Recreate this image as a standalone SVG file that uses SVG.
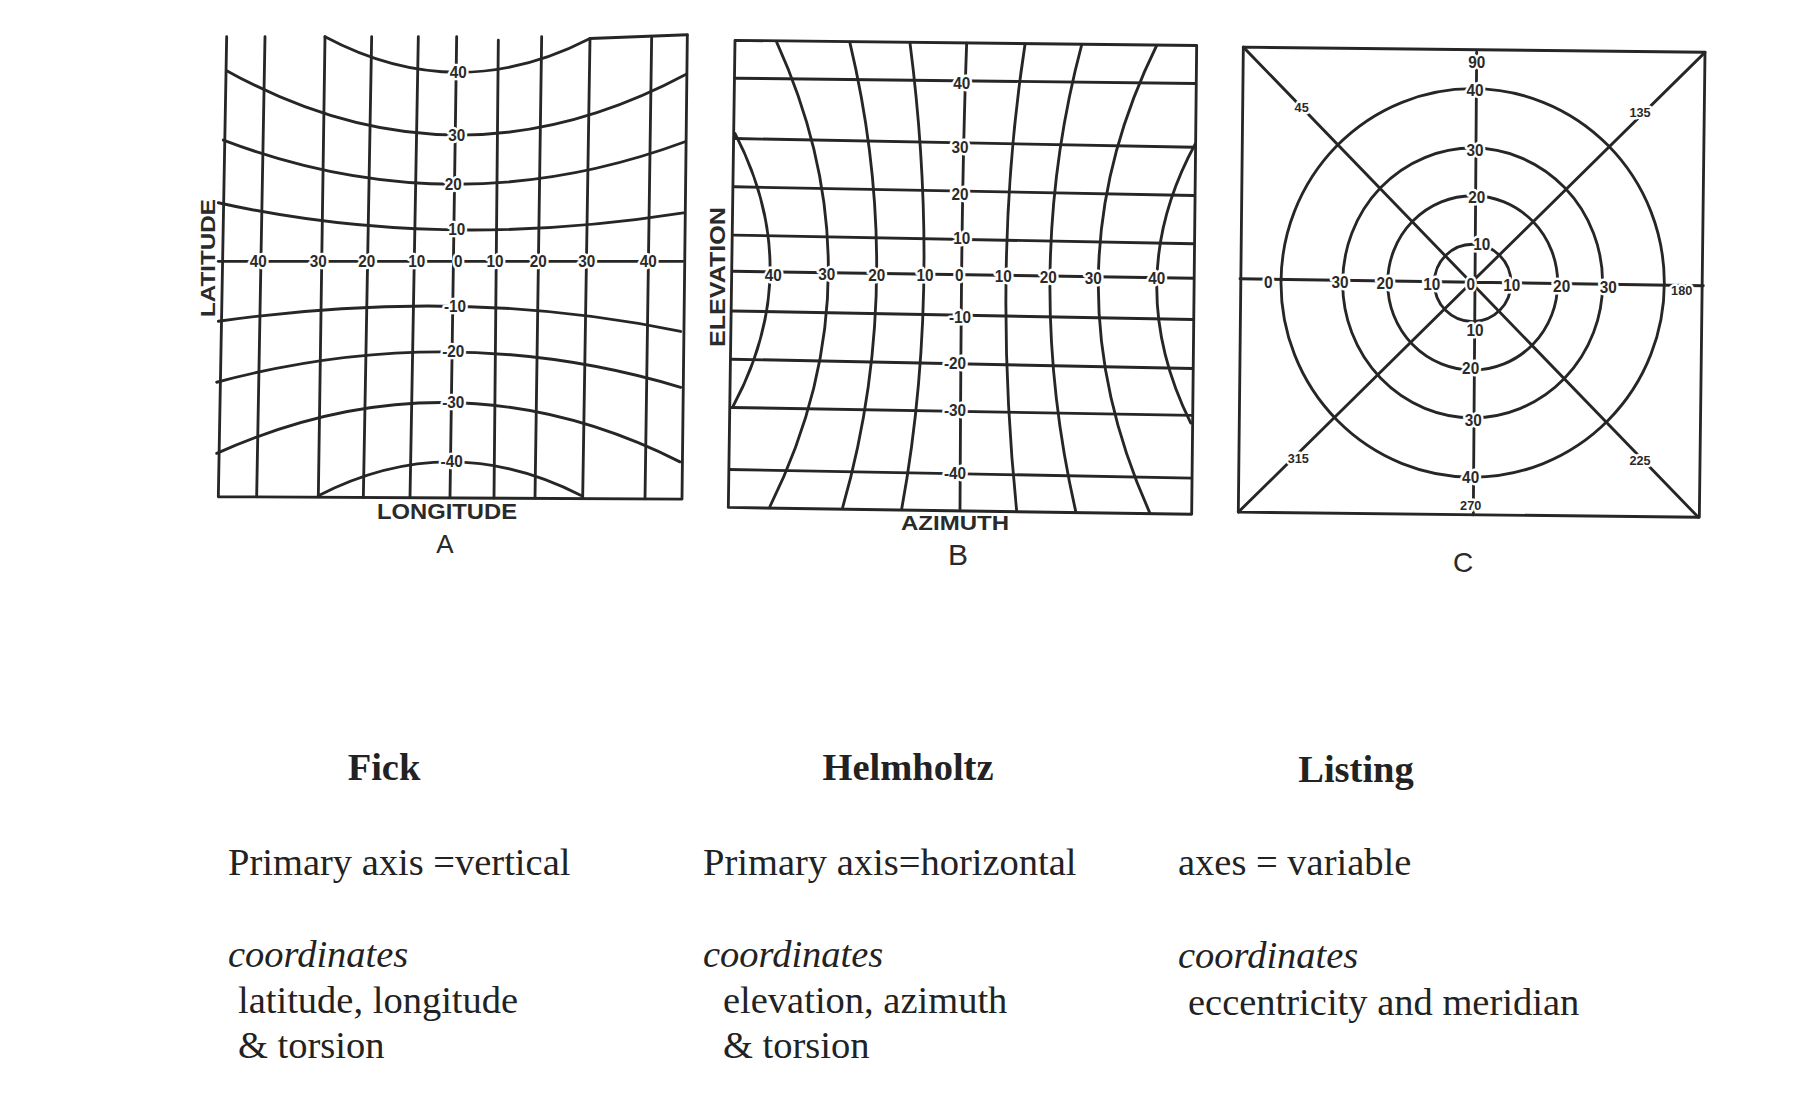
<svg xmlns="http://www.w3.org/2000/svg" width="1806" height="1109" viewBox="0 0 1806 1109">
<style>
.g{fill:none;stroke:#262626;stroke-width:8.5;stroke-linecap:round;stroke-linejoin:round}
.n{font-family:"Liberation Sans",Arial,sans-serif;font-weight:bold;font-size:46px;text-anchor:middle;dominant-baseline:central;fill:#2a2a2a;stroke:#fff;stroke-width:14px;paint-order:stroke;stroke-linejoin:round}
.s{font-size:38px}
.ax{font-family:"Liberation Sans",Arial,sans-serif;font-weight:bold;fill:#2a2a2a;text-anchor:middle}
.cap{font-family:"Liberation Sans",Arial,sans-serif;fill:#2a2a2a;text-anchor:middle}
.t{font-family:"Liberation Serif","Times New Roman",serif;font-size:38.5px;fill:#222}
.h{font-weight:bold;text-anchor:middle}
.i{font-style:italic}
</style>
<rect width="1806" height="1109" fill="#fff"/>

<g id="panel-fick">
<g transform="translate(190,30) scale(0.333333,0.3387)">
<path class="g" d="M110,20 L85,1378 L1476,1385 L1492,15"/>
<path class="g" d="M225,20 L200,1378 M405,20 L385,1378 M545,20 L520,1380 M685,20 L660,1380 M800,20 L780,1380 M925,30 L912,1382 M1055,20 L1035,1382 M1200,25 L1178,1383 M1385,20 L1365,1384"/>
<path class="g" d="M405,20 C670,159 935,159 1200,25 L1492,14"/>
<path class="g" d="M110,120 C570,372 1030,372 1490,130"/>
<path class="g" d="M100,325 C562,498 1023,498 1485,330"/>
<path class="g" d="M85,510 C550,612 1015,612 1480,540"/>
<path class="g" d="M85,683 L1478,683"/>
<path class="g" d="M85,860 C547,795 1010,795 1472,890"/>
<path class="g" d="M80,1040 C544,918 1008,918 1472,1055"/>
<path class="g" d="M80,1250 C543,1046 1007,1046 1470,1275"/>
<path class="g" d="M385,1375 C648,1242 912,1242 1175,1375"/>
<text class="n" x="805" y="125">40</text>
<text class="n" x="800" y="310">30</text>
<text class="n" x="790" y="455">20</text>
<text class="n" x="800" y="590">10</text>
<text class="n" x="795" y="815">-10</text>
<text class="n" x="790" y="950">-20</text>
<text class="n" x="790" y="1100">-30</text>
<text class="n" x="785" y="1275">-40</text>
<text class="n" x="205" y="683">40</text>
<text class="n" x="385" y="683">30</text>
<text class="n" x="530" y="683">20</text>
<text class="n" x="680" y="683">10</text>
<text class="n" x="805" y="683">0</text>
<text class="n" x="915" y="683">10</text>
<text class="n" x="1045" y="683">20</text>
<text class="n" x="1190" y="683">30</text>
<text class="n" x="1375" y="683">40</text>
</g>
<text class="ax" transform="translate(215,258) rotate(-90)" font-size="21" textLength="118" lengthAdjust="spacingAndGlyphs">LATITUDE</text>
<text class="ax" x="447" y="519" font-size="22" textLength="140" lengthAdjust="spacingAndGlyphs">LONGITUDE</text>
<text class="cap" x="445" y="553" font-size="26">A</text>
</g>

<g id="panel-helmholtz">
<g transform="translate(720,30) scale(0.333333,0.3447)">
<path class="g" d="M45,30 L1430,45 L1415,1405 L25,1385 Z"/>
<path class="g" d="M48,140 L1427,155 M45,315 L1422,340 M44,455 L1421,480 M42,595 L1420,620 M40,700 L1420,720 M37,815 L1418,840 M35,955 L1417,982 M32,1095 L1416,1118 M28,1275 L1415,1300"/>
<path class="g" d="M45,300 C186,563 186,827 40,1090"/>
<path class="g" d="M170,35 C380,483 380,932 150,1382"/>
<path class="g" d="M390,38 C500,487 500,938 368,1385"/>
<path class="g" d="M570,38 C630,488 630,940 545,1390"/>
<path class="g" d="M740,38 C723,488 723,940 720,1390"/>
<path class="g" d="M915,42 C843,493 843,945 890,1395"/>
<path class="g" d="M1085,43 C961,495 961,948 1068,1400"/>
<path class="g" d="M1310,45 C1080,497 1080,950 1290,1402"/>
<path class="g" d="M1426,330 C1274,600 1274,870 1412,1140"/>
<text class="n" x="725" y="155">40</text>
<text class="n" x="720" y="340">30</text>
<text class="n" x="720" y="478">20</text>
<text class="n" x="725" y="605">10</text>
<text class="n" x="718" y="712">0</text>
<text class="n" x="720" y="835">-10</text>
<text class="n" x="705" y="968">-20</text>
<text class="n" x="705" y="1105">-30</text>
<text class="n" x="705" y="1285">-40</text>
<text class="n" x="160" y="712">40</text>
<text class="n" x="320" y="710">30</text>
<text class="n" x="470" y="712">20</text>
<text class="n" x="615" y="712">10</text>
<text class="n" x="850" y="715">10</text>
<text class="n" x="985" y="718">20</text>
<text class="n" x="1120" y="720">30</text>
<text class="n" x="1310" y="722">40</text>
</g>
<text class="ax" transform="translate(725,277) rotate(-90)" font-size="22" textLength="140" lengthAdjust="spacingAndGlyphs">ELEVATION</text>
<text class="ax" x="955" y="530" font-size="21" textLength="108" lengthAdjust="spacingAndGlyphs">AZIMUTH</text>
<text class="cap" x="958" y="565" font-size="30">B</text>
</g>

<g id="panel-listing">
<g transform="translate(1230,38.5) scale(0.333333,0.3457)">
<path class="g" d="M40,25 L1425,40 L1408,1385 L25,1370 Z"/>
<path class="g" d="M30,695 L1420,715 M740,40 L730,1378 M40,25 L1405,1385 M25,1370 L1425,40"/>
<ellipse class="g" cx="728" cy="707" rx="115" ry="112"/>
<ellipse class="g" cx="728" cy="707" rx="255" ry="252"/>
<ellipse class="g" cx="728" cy="707" rx="390" ry="390"/>
<ellipse class="g" cx="728" cy="707" rx="575" ry="562"/>
<text class="n" x="740" y="70">90</text>
<text class="n" x="735" y="150">40</text>
<text class="n" x="735" y="325">30</text>
<text class="n" x="740" y="460">20</text>
<text class="n" x="755" y="595">10</text>
<text class="n" x="735" y="845">10</text>
<text class="n" x="722" y="955">20</text>
<text class="n" x="730" y="1105">30</text>
<text class="n" x="722" y="1270">40</text>
<text class="n s" x="722" y="1350">270</text>
<text class="n" x="115" y="705">0</text>
<text class="n" x="330" y="705">30</text>
<text class="n" x="465" y="708">20</text>
<text class="n" x="605" y="712">10</text>
<text class="n" x="722" y="710">0</text>
<text class="n" x="845" y="715">10</text>
<text class="n" x="995" y="718">20</text>
<text class="n" x="1135" y="720">30</text>
<text class="n s" x="1355" y="728">180</text>
<text class="n s" x="215" y="200">45</text>
<text class="n s" x="1230" y="215">135</text>
<text class="n s" x="205" y="1215">315</text>
<text class="n s" x="1230" y="1220">225</text>
</g>
<text class="cap" x="1463" y="572" font-size="28">C</text>
</g>

<g id="caption-fick" class="t">
<text class="h" x="384" y="780">Fick</text>
<text x="228" y="875">Primary axis =vertical</text>
<text class="i" x="228" y="967">coordinates</text>
<text x="238" y="1013">latitude, longitude</text>
<text x="238" y="1058">&amp; torsion</text>
</g>
<g id="caption-helmholtz" class="t">
<text class="h" x="908" y="780">Helmholtz</text>
<text x="703" y="875">Primary axis=horizontal</text>
<text class="i" x="703" y="967">coordinates</text>
<text x="723" y="1013">elevation, azimuth</text>
<text x="723" y="1058">&amp; torsion</text>
</g>
<g id="caption-listing" class="t">
<text class="h" x="1356" y="782">Listing</text>
<text x="1178" y="875">axes = variable</text>
<text class="i" x="1178" y="968">coordinates</text>
<text x="1188" y="1015">eccentricity and meridian</text>
</g>
</svg>
